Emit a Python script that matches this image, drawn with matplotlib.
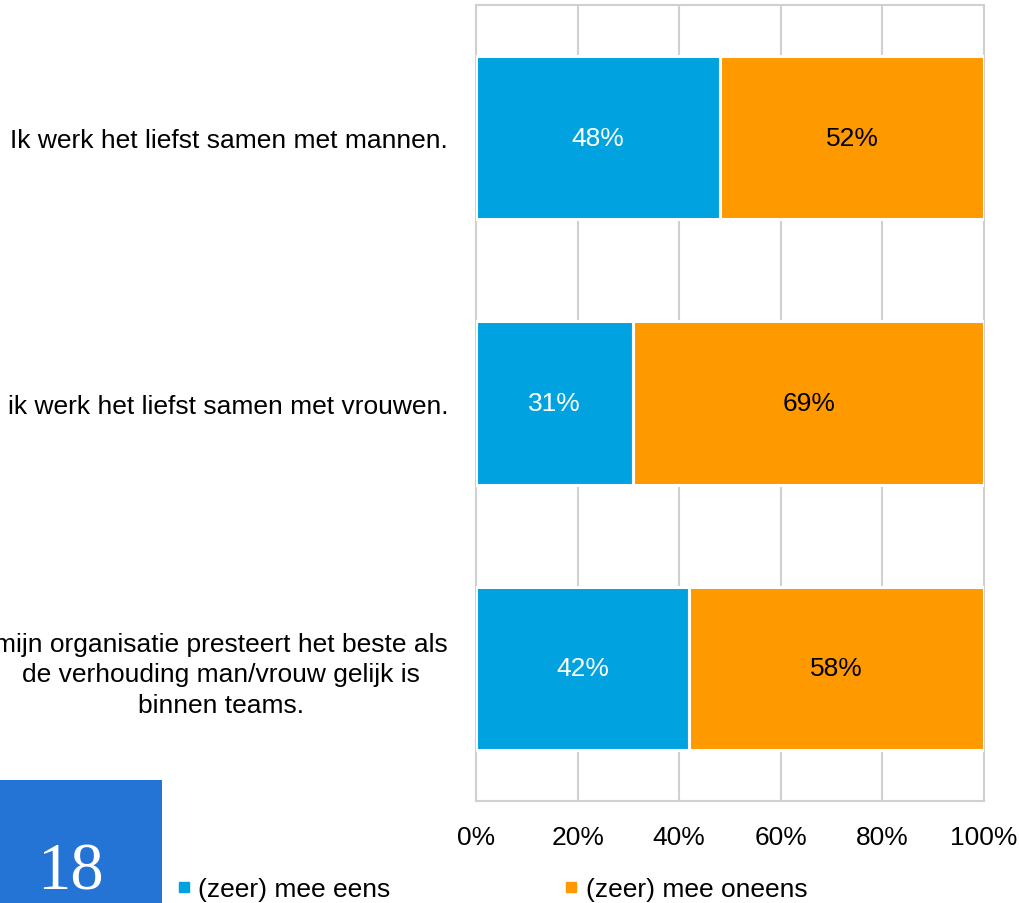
import matplotlib
matplotlib.use("Agg")
import matplotlib.pyplot as plt
from matplotlib.lines import Line2D
from matplotlib.patches import Rectangle

categories = [
    "Ik werk het liefst samen met mannen.",
    "ik werk het liefst samen met vrouwen.",
    "mijn organisatie presteert het beste als\nde verhouding man/vrouw gelijk is\nbinnen teams.",
]
agree = [48, 31, 42]
disagree = [52, 69, 58]
series_names = ["(zeer) mee eens", "(zeer) mee oneens"]
xticks = [0, 20, 40, 60, 80, 100]
xtick_labels = ["0%", "20%", "40%", "60%", "80%", "100%"]
page_number = "18"

BLUE = "#00A3E0"
ORANGE = "#FF9900"
BOX = "#2474D5"
GRID = "#D0D0D0"
FS = 19

plt.rcParams["font.family"] = ["Liberation Sans", "DejaVu Sans"]

W, H = 1019, 904
fig = plt.figure(figsize=(W / 100, H / 100), dpi=100)
ax = fig.add_axes([476 / W, (H - 802) / H, (984 - 476) / W, (802 - 6) / H])

y = list(range(len(categories)))
h = 0.615
b1 = ax.barh(y, agree, height=h, color=BLUE, edgecolor="white", linewidth=2.2, zorder=3)
b2 = ax.barh(y, disagree, left=agree, height=h, color=ORANGE, edgecolor="white", linewidth=2.2, zorder=3)

for rect, v in zip(b1, agree):
    ax.text(rect.get_x() + rect.get_width() / 2, rect.get_y() + rect.get_height() / 2,
            f"{v}%", ha="center", va="center", color="white", fontsize=FS, zorder=4)
for rect, v in zip(b2, disagree):
    ax.text(rect.get_x() + rect.get_width() / 2, rect.get_y() + rect.get_height() / 2,
            f"{v}%", ha="center", va="center", color="black", fontsize=FS, zorder=4)

ax.set_xlim(0, 100)
ax.set_ylim(len(categories) - 0.5, -0.5)
ax.set_xticks(xticks)
ax.set_xticklabels(xtick_labels, fontsize=FS)
ax.set_yticks(y)
ax.set_yticklabels(categories, fontsize=FS, multialignment="center", linespacing=1.35)
ax.tick_params(axis="both", length=0)
ax.tick_params(axis="x", pad=17)
ax.tick_params(axis="y", pad=20)
ax.xaxis.grid(True, color=GRID, linewidth=1.5, zorder=0)
ax.set_axisbelow(True)
for s in ax.spines.values():
    s.set_color(GRID)
    s.set_linewidth(1.5)
    s.set_zorder(1)

handles = [
    Line2D([], [], marker="s", linestyle="none", markersize=6.5, color=BLUE),
    Line2D([], [], marker="s", linestyle="none", markersize=6.5, color=ORANGE),
]
fig.legend(handles, series_names, loc="center left", bbox_to_anchor=(177 / W, 1 - 890 / H),
           ncol=2, frameon=False, fontsize=FS, handlelength=0.5, handletextpad=0.3,
           columnspacing=6.6, borderpad=0, borderaxespad=0)

fig.patches.append(Rectangle((0, 0), 162 / W, (H - 781) / H, transform=fig.transFigure,
                             facecolor=BOX, edgecolor="none", zorder=0))
fig.text(70 / W, 1 - 873 / H, page_number, color="white", ha="center", va="center",
         fontsize=48, family=["Liberation Serif", "DejaVu Serif"])

fig.savefig("out.png", dpi=100)
